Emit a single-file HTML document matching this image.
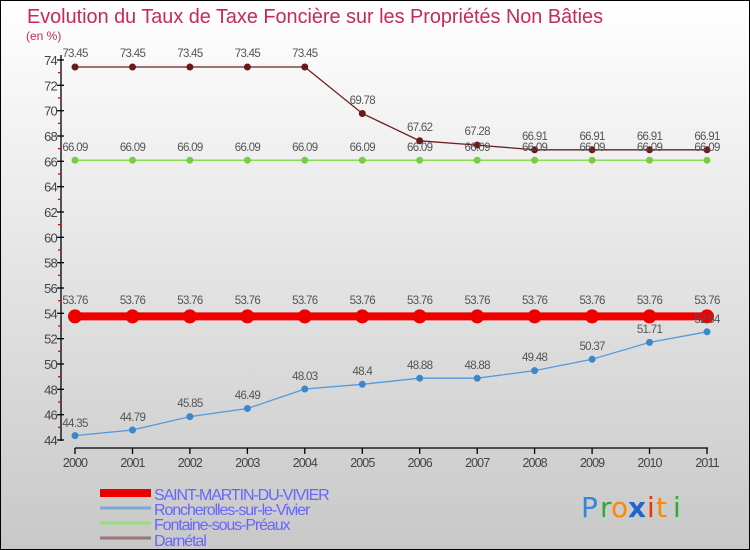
<!DOCTYPE html>
<html><head><meta charset="utf-8"><style>
html,body{margin:0;padding:0;}
body{width:750px;height:550px;overflow:hidden;}
svg{display:block;font-family:"Liberation Sans",sans-serif;}
.l{font-size:11.5px;fill:#555;text-anchor:middle;letter-spacing:-0.7px;}
.t{font-size:13px;fill:#444;text-anchor:end;letter-spacing:-0.8px;}
.x{font-size:12.5px;fill:#444;text-anchor:middle;letter-spacing:-0.9px;}
.g{font-size:16px;fill:#6666ff;letter-spacing:-1.1px;}
</style></head><body>
<svg width="750" height="550" viewBox="0 0 750 550">
<defs><linearGradient id="bg" x1="0" y1="0" x2="0" y2="1"><stop offset="0" stop-color="#ffffff"/><stop offset="1" stop-color="#c8c8c8"/></linearGradient></defs>
<rect x="0.5" y="0.5" width="749" height="549" fill="url(#bg)" stroke="#000"/>
<text x="27" y="23" font-size="20" fill="#c8285a" textLength="576" lengthAdjust="spacingAndGlyphs">Evolution du Taux de Taxe Foncière sur les Propriétés Non Bâties</text>
<text x="26" y="40" font-size="12" fill="#c8285a">(en %)</text>
<g stroke="#000" stroke-width="1.3">
<line x1="61" y1="55" x2="61" y2="441"/>
<line x1="57" y1="60" x2="64" y2="60"/><line x1="57" y1="85.3" x2="64" y2="85.3"/><line x1="57" y1="110.7" x2="64" y2="110.7"/><line x1="57" y1="136" x2="64" y2="136"/><line x1="57" y1="161.3" x2="64" y2="161.3"/><line x1="57" y1="186.7" x2="64" y2="186.7"/><line x1="57" y1="212" x2="64" y2="212"/><line x1="57" y1="237.3" x2="64" y2="237.3"/><line x1="57" y1="262.7" x2="64" y2="262.7"/><line x1="57" y1="288" x2="64" y2="288"/><line x1="57" y1="313.3" x2="64" y2="313.3"/><line x1="57" y1="338.7" x2="64" y2="338.7"/><line x1="57" y1="364" x2="64" y2="364"/><line x1="57" y1="389.3" x2="64" y2="389.3"/><line x1="57" y1="414.7" x2="64" y2="414.7"/><line x1="57" y1="440" x2="64" y2="440"/>
<line x1="75" y1="448" x2="708" y2="448"/>
</g>
<g stroke="#e00" stroke-width="1.3">
<line x1="58" y1="72.7" x2="61" y2="72.7"/><line x1="58" y1="98" x2="61" y2="98"/><line x1="58" y1="123.3" x2="61" y2="123.3"/><line x1="58" y1="148.7" x2="61" y2="148.7"/><line x1="58" y1="174" x2="61" y2="174"/><line x1="58" y1="199.3" x2="61" y2="199.3"/><line x1="58" y1="224.7" x2="61" y2="224.7"/><line x1="58" y1="250" x2="61" y2="250"/><line x1="58" y1="275.3" x2="61" y2="275.3"/><line x1="58" y1="300.7" x2="61" y2="300.7"/><line x1="58" y1="326" x2="61" y2="326"/><line x1="58" y1="351.3" x2="61" y2="351.3"/><line x1="58" y1="376.7" x2="61" y2="376.7"/><line x1="58" y1="402" x2="61" y2="402"/><line x1="58" y1="427.3" x2="61" y2="427.3"/>
</g>
<g>
<text x="57" y="65" class="t">74</text><text x="57" y="90.3" class="t">72</text><text x="57" y="115.7" class="t">70</text><text x="57" y="141" class="t">68</text><text x="57" y="166.3" class="t">66</text><text x="57" y="191.7" class="t">64</text><text x="57" y="217" class="t">62</text><text x="57" y="242.3" class="t">60</text><text x="57" y="267.7" class="t">58</text><text x="57" y="293" class="t">56</text><text x="57" y="318.3" class="t">54</text><text x="57" y="343.7" class="t">52</text><text x="57" y="369" class="t">50</text><text x="57" y="394.3" class="t">48</text><text x="57" y="419.7" class="t">46</text><text x="57" y="445" class="t">44</text>
</g>
<g stroke="#000" stroke-width="1.3">
<line x1="75" y1="448" x2="75" y2="454"/><line x1="132.5" y1="448" x2="132.5" y2="454"/><line x1="189.9" y1="448" x2="189.9" y2="454"/><line x1="247.4" y1="448" x2="247.4" y2="454"/><line x1="304.8" y1="448" x2="304.8" y2="454"/><line x1="362.3" y1="448" x2="362.3" y2="454"/><line x1="419.7" y1="448" x2="419.7" y2="454"/><line x1="477.2" y1="448" x2="477.2" y2="454"/><line x1="534.6" y1="448" x2="534.6" y2="454"/><line x1="592.1" y1="448" x2="592.1" y2="454"/><line x1="649.5" y1="448" x2="649.5" y2="454"/><line x1="707" y1="448" x2="707" y2="454"/>
</g>
<g>
<text class="x" x="75" y="467">2000</text><text class="x" x="132.5" y="467">2001</text><text class="x" x="189.9" y="467">2002</text><text class="x" x="247.4" y="467">2003</text><text class="x" x="304.8" y="467">2004</text><text class="x" x="362.3" y="467">2005</text><text class="x" x="419.7" y="467">2006</text><text class="x" x="477.2" y="467">2007</text><text class="x" x="534.6" y="467">2008</text><text class="x" x="592.1" y="467">2009</text><text class="x" x="649.5" y="467">2010</text><text class="x" x="707" y="467">2011</text>
</g>
<polyline fill="none" stroke="#6b2020" stroke-width="1.3" points="75,67 132.5,67 189.9,67 247.4,67 304.8,67 362.3,113.5 419.7,140.8 477.2,145.1 534.6,149.8 592.1,149.8 649.5,149.8 707,149.8"/>
<g fill="#6b1818"><circle cx="75" cy="67" r="3.5"/><circle cx="132.5" cy="67" r="3.5"/><circle cx="189.9" cy="67" r="3.5"/><circle cx="247.4" cy="67" r="3.5"/><circle cx="304.8" cy="67" r="3.5"/><circle cx="362.3" cy="113.5" r="3.5"/><circle cx="419.7" cy="140.8" r="3.5"/><circle cx="477.2" cy="145.1" r="3.5"/><circle cx="534.6" cy="149.8" r="3.5"/><circle cx="592.1" cy="149.8" r="3.5"/><circle cx="649.5" cy="149.8" r="3.5"/><circle cx="707" cy="149.8" r="3.5"/></g>
<g><text class="l" x="75" y="57">73.45</text><text class="l" x="132.5" y="57">73.45</text><text class="l" x="189.9" y="57">73.45</text><text class="l" x="247.4" y="57">73.45</text><text class="l" x="304.8" y="57">73.45</text><text class="l" x="362.3" y="104">69.78</text><text class="l" x="419.7" y="131">67.62</text><text class="l" x="477.2" y="135">67.28</text><text class="l" x="534.6" y="140">66.91</text><text class="l" x="592.1" y="140">66.91</text><text class="l" x="649.5" y="140">66.91</text><text class="l" x="707" y="140">66.91</text></g>
<polyline fill="none" stroke="#88dd55" stroke-width="1.5" points="75,160.2 707,160.2"/>
<g fill="#77cc44"><circle cx="75" cy="160.2" r="3.5"/><circle cx="132.5" cy="160.2" r="3.5"/><circle cx="189.9" cy="160.2" r="3.5"/><circle cx="247.4" cy="160.2" r="3.5"/><circle cx="304.8" cy="160.2" r="3.5"/><circle cx="362.3" cy="160.2" r="3.5"/><circle cx="419.7" cy="160.2" r="3.5"/><circle cx="477.2" cy="160.2" r="3.5"/><circle cx="534.6" cy="160.2" r="3.5"/><circle cx="592.1" cy="160.2" r="3.5"/><circle cx="649.5" cy="160.2" r="3.5"/><circle cx="707" cy="160.2" r="3.5"/></g>
<g><text class="l" x="75" y="151">66.09</text><text class="l" x="132.5" y="151">66.09</text><text class="l" x="189.9" y="151">66.09</text><text class="l" x="247.4" y="151">66.09</text><text class="l" x="304.8" y="151">66.09</text><text class="l" x="362.3" y="151">66.09</text><text class="l" x="419.7" y="151">66.09</text><text class="l" x="477.2" y="151">66.09</text><text class="l" x="534.6" y="151">66.09</text><text class="l" x="592.1" y="151">66.09</text><text class="l" x="649.5" y="151">66.09</text><text class="l" x="707" y="151">66.09</text></g>
<line x1="75" y1="316.4" x2="707" y2="316.4" stroke="#ee0000" stroke-width="8"/>
<g fill="#ee0000"><circle cx="75" cy="316.4" r="7"/><circle cx="132.5" cy="316.4" r="7"/><circle cx="189.9" cy="316.4" r="7"/><circle cx="247.4" cy="316.4" r="7"/><circle cx="304.8" cy="316.4" r="7"/><circle cx="362.3" cy="316.4" r="7"/><circle cx="419.7" cy="316.4" r="7"/><circle cx="477.2" cy="316.4" r="7"/><circle cx="534.6" cy="316.4" r="7"/><circle cx="592.1" cy="316.4" r="7"/><circle cx="649.5" cy="316.4" r="7"/><circle cx="707" cy="316.4" r="7"/></g>
<g><text class="l" x="75" y="304">53.76</text><text class="l" x="132.5" y="304">53.76</text><text class="l" x="189.9" y="304">53.76</text><text class="l" x="247.4" y="304">53.76</text><text class="l" x="304.8" y="304">53.76</text><text class="l" x="362.3" y="304">53.76</text><text class="l" x="419.7" y="304">53.76</text><text class="l" x="477.2" y="304">53.76</text><text class="l" x="534.6" y="304">53.76</text><text class="l" x="592.1" y="304">53.76</text><text class="l" x="649.5" y="304">53.76</text><text class="l" x="707" y="304">53.76</text></g>
<polyline fill="none" stroke="#5599dd" stroke-width="1.3" points="75,435.6 132.5,430 189.9,416.6 247.4,408.5 304.8,389 362.3,384.3 419.7,378.2 477.2,378.2 534.6,370.6 592.1,359.3 649.5,342.4 707,331.8"/>
<g fill="#3a88cc"><circle cx="75" cy="435.6" r="3.5"/><circle cx="132.5" cy="430" r="3.5"/><circle cx="189.9" cy="416.6" r="3.5"/><circle cx="247.4" cy="408.5" r="3.5"/><circle cx="304.8" cy="389" r="3.5"/><circle cx="362.3" cy="384.3" r="3.5"/><circle cx="419.7" cy="378.2" r="3.5"/><circle cx="477.2" cy="378.2" r="3.5"/><circle cx="534.6" cy="370.6" r="3.5"/><circle cx="592.1" cy="359.3" r="3.5"/><circle cx="649.5" cy="342.4" r="3.5"/><circle cx="707" cy="331.8" r="3.5"/></g>
<g><text class="l" x="75" y="427">44.35</text><text class="l" x="132.5" y="421">44.79</text><text class="l" x="189.9" y="407">45.85</text><text class="l" x="247.4" y="399">46.49</text><text class="l" x="304.8" y="380">48.03</text><text class="l" x="362.3" y="375">48.4</text><text class="l" x="419.7" y="369">48.88</text><text class="l" x="477.2" y="369">48.88</text><text class="l" x="534.6" y="361">49.48</text><text class="l" x="592.1" y="350">50.37</text><text class="l" x="649.5" y="333">51.71</text><text class="l" x="707" y="323">52.54</text></g>
<rect x="100" y="489" width="51" height="8" fill="#ee0000"/>
<line x1="100" y1="508" x2="151" y2="508" stroke="#7aaad4" stroke-width="3"/>
<line x1="100" y1="523" x2="151" y2="523" stroke="#99dd77" stroke-width="3"/>
<line x1="100" y1="538" x2="151" y2="538" stroke="#997777" stroke-width="3"/>
<text class="g" x="154" y="500">SAINT-MARTIN-DU-VIVIER</text>
<text class="g" x="154" y="515">Roncherolles-sur-le-Vivier</text>
<text class="g" x="154" y="530">Fontaine-sous-Préaux</text>
<text class="g" x="154" y="546">Darnétal</text>
<g font-size="28" font-family="'DejaVu Sans',sans-serif">
<text x="581" y="517" fill="#3388dd">P</text><text x="600" y="517" fill="#33aa33">r</text><text x="611" y="517" fill="#ff8800">o</text><text x="628" y="517" fill="#2266cc" font-weight="bold">x</text><text x="647" y="517" fill="#ee3300">i</text><text x="656" y="517" fill="#ff8800">t</text><text x="673" y="517" fill="#33aa33">i</text>
</g>
</svg>
</body></html>
